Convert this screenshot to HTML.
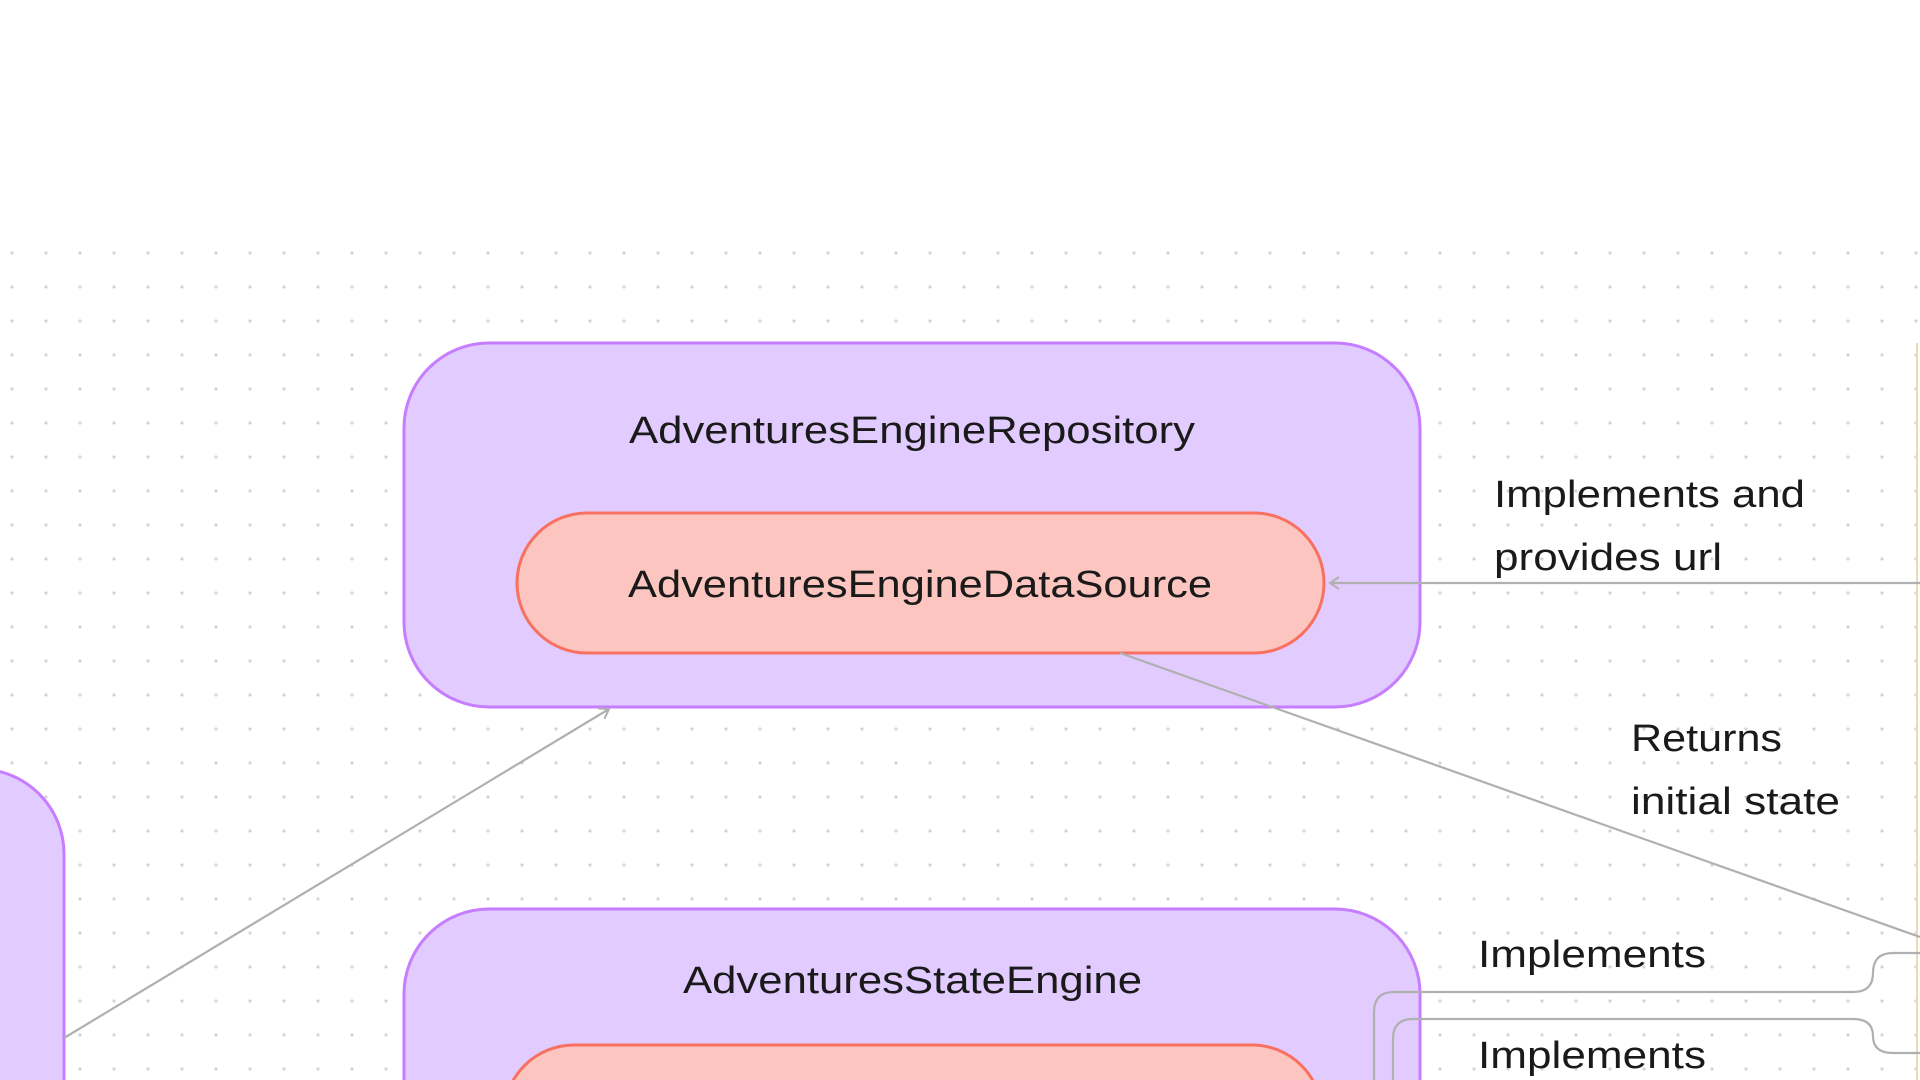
<!DOCTYPE html>
<html><head><meta charset="utf-8"><style>
html,body{margin:0;padding:0;background:#fff;width:1920px;height:1080px;overflow:hidden}
svg{display:block}
text{font-family:"Liberation Sans",sans-serif;fill:#1a1a1a}
</style></head><body>
<svg width="1920" height="1080" viewBox="0 0 1920 1080" xmlns="http://www.w3.org/2000/svg">
<defs>
<clipPath id="c"><rect x="0" y="0" width="1920" height="1080"/></clipPath>
<pattern id="dots" x="0" y="236" width="34" height="34" patternUnits="userSpaceOnUse">
<circle cx="12" cy="17" r="1.6" fill="#d4d4d4"/>
</pattern>
<marker id="arr" markerWidth="14" markerHeight="14" refX="11" refY="7" orient="auto" markerUnits="userSpaceOnUse">
<path d="M2,1 L11,7 L2,13" fill="none" stroke="#b0b0b0" stroke-width="2"/>
</marker>
</defs>
<g clip-path="url(#c)">
<rect x="0" y="236" width="1920" height="844" fill="url(#dots)"/>
<line x1="1917" y1="343" x2="1917" y2="1080" stroke="#e6dcb8" stroke-width="2"/>

<rect x="-200" y="769" width="264" height="400" rx="85" fill="#e2ccff" stroke="#c77dff" stroke-width="3"/>

<rect x="404" y="343" width="1016" height="364" rx="85" fill="#e2ccff" stroke="#c77dff" stroke-width="3"/>
<text x="629" y="443" font-size="38" textLength="566" lengthAdjust="spacingAndGlyphs">AdventuresEngineRepository</text>
<rect x="517" y="513" width="807" height="140" rx="70" fill="#fcc5c0" stroke="#f87060" stroke-width="3"/>
<text x="628" y="597" font-size="38" textLength="584" lengthAdjust="spacingAndGlyphs">AdventuresEngineDataSource</text>

<rect x="404" y="909" width="1016" height="400" rx="85" fill="#e2ccff" stroke="#c77dff" stroke-width="3"/>
<text x="683" y="993" font-size="38" textLength="459" lengthAdjust="spacingAndGlyphs">AdventuresStateEngine</text>
<rect x="504" y="1045" width="818" height="140" rx="70" fill="#fcc5c0" stroke="#f87060" stroke-width="3"/>

<line x1="1920" y1="583" x2="1330" y2="583" stroke="#b0b0b0" stroke-width="2.2" marker-end="url(#arr)"/>
<line x1="1120" y1="653" x2="1920" y2="937" stroke="#b0b0b0" stroke-width="2.2"/>
<line x1="64" y1="1038" x2="609" y2="709" stroke="#b0b0b0" stroke-width="2.2" marker-end="url(#arr)"/>
<path d="M1920,953 L1893,953 Q1873,953 1873,973 Q1873,992 1853,992 L1394,992 Q1374,992 1374,1012 L1374,1080" fill="none" stroke="#b0b0b0" stroke-width="2.2"/>
<path d="M1920,1053 L1893,1053 Q1873,1053 1873,1036 Q1873,1019 1853,1019 L1413,1019 Q1393,1019 1393,1039 L1393,1080" fill="none" stroke="#b0b0b0" stroke-width="2.2"/>

<text x="1494" y="507" font-size="38" textLength="311" lengthAdjust="spacingAndGlyphs">Implements and</text>
<text x="1494" y="570" font-size="38" textLength="228" lengthAdjust="spacingAndGlyphs">provides url</text>
<text x="1631" y="751" font-size="38" textLength="151" lengthAdjust="spacingAndGlyphs">Returns</text>
<text x="1631" y="814" font-size="38" textLength="209" lengthAdjust="spacingAndGlyphs">initial state</text>
<text x="1478" y="967" font-size="38" textLength="228" lengthAdjust="spacingAndGlyphs">Implements</text>
<text x="1478" y="1068" font-size="38" textLength="228" lengthAdjust="spacingAndGlyphs">Implements</text>
</g>
</svg>
</body></html>
